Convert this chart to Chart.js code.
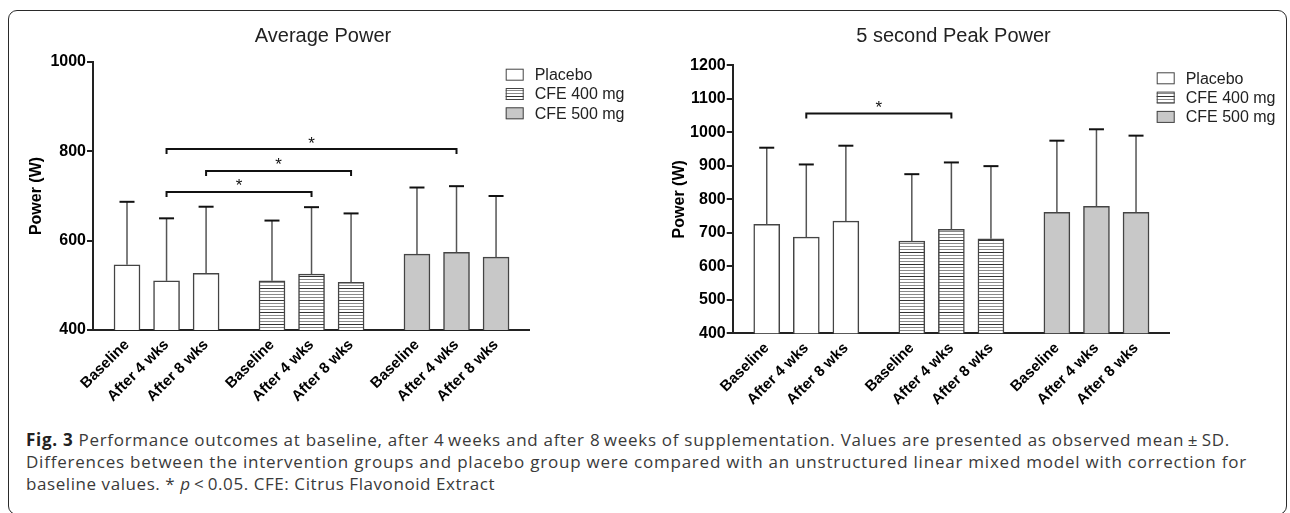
<!DOCTYPE html>
<html>
<head>
<meta charset="utf-8">
<script src="https://cdn.jsdelivr.net/npm/chart.js@4.4.1/dist/chart.umd.min.js"></script>
<style>
  html, body { margin: 0; padding: 0; background: #fff; }
  body { width: 1290px; height: 513px; position: relative; overflow: hidden; }
  #frame { position: absolute; left: 8px; top: 10px; width: 1279px; height: 505px;
           border: 1.5px solid #2a2a2a; border-radius: 9px; box-sizing: border-box; }
  canvas { position: absolute; top: 0; }
  #cLeft { left: 0; }
  #cRight { left: 645px; }
  #cap { position: absolute; left: 26px; top: 429px; font-family: "Open Sans", sans-serif;
         font-size: 17px; line-height: 22px; color: #3a3a3a; white-space: nowrap; }
  #cap > div { display: block; width: max-content; }
  #cap b { color: #222; }
</style>
</head>
<body>
<div id="frame"></div>
<canvas id="cLeft" width="645" height="420"></canvas>
<canvas id="cRight" width="645" height="420"></canvas>
<div id="cap">
  <div data-w="1204"><b>Fig. 3</b> Performance outcomes at baseline, after 4&#8201;weeks and after 8&#8201;weeks of supplementation. Values are presented as observed mean&#8201;±&#8201;SD.</div>
  <div data-w="1221">Differences between the intervention groups and placebo group were compared with an unstructured linear mixed model with correction for</div>
  <div data-w="469">baseline values. * <i>p</i>&#8201;&lt;&#8201;0.05. CFE: Citrus Flavonoid Extract</div>
</div>
<script>
// ---------------- DATA ----------------
const timeLabels = ['Baseline', 'After 4 wks', 'After 8 wks'];
const groupLabels = ['Placebo', 'CFE 400 mg', 'CFE 500 mg'];

// Average Power (W): means and SD (upper error bar)
const avgPlacebo   = [546, 510, 527];
const avgCFE400    = [510, 525, 507];
const avgCFE500    = [570, 574, 563];
const avgSDPlacebo = [141, 140, 149];
const avgSDCFE400  = [135, 150, 154];
const avgSDCFE500  = [149, 148, 137];
const avgTicks     = [400, 600, 800, 1000];
// significance brackets: [from bar, to bar, level in W]  (bars numbered 0..8)
const avgBrackets  = [[1, 7, 805], [2, 5, 756], [1, 4, 709]];

// 5 second Peak Power (W)
const peakPlacebo   = [725, 687, 735];
const peakCFE400    = [675, 710, 682];
const peakCFE500    = [761, 779, 761];
const peakSDPlacebo = [229, 217, 225];
const peakSDCFE400  = [200, 200, 217];
const peakSDCFE500  = [214, 230, 229];
const peakTicks     = [400, 500, 600, 700, 800, 900, 1000, 1100, 1200];
const peakBrackets  = [[1, 4, 1056]];

// ---------------- STYLE / LAYOUT ----------------
const FONT = 'Arial, "Liberation Sans", Helvetica, sans-serif';
const SLOT = 3, GROUP_STEP = 11;   // bar spacing and group spacing in x-units
const barPos = (g, t) => g * GROUP_STEP + t * SLOT;

function makeHatch() {
  const c = document.createElement('canvas');
  c.width = 8; c.height = 12;
  const x = c.getContext('2d');
  x.fillStyle = '#fff'; x.fillRect(0, 0, 8, 12);
  x.fillStyle = '#333'; x.fillRect(0, 0, 8, 1);
  x.fillStyle = '#8a8a8a'; x.fillRect(0, 3, 8, 1); x.fillRect(0, 6, 8, 1); x.fillRect(0, 9, 8, 1);
  return x.createPattern(c, 'repeat');
}
const fills = ['#ffffff', makeHatch(), '#c8c8c8'];

const decor = {
  id: 'decor',
  afterDatasetsDraw(chart, args, o) {
    const ctx = chart.ctx, ys = chart.scales.y;
    ctx.save();
    chart.data.datasets.forEach((ds, di) => {
      const meta = chart.getDatasetMeta(di);
      meta.data.forEach((bar, j) => {
        const top = ys.getPixelForValue(ds.data[j].y + ds.sd[j]);
        ctx.strokeStyle = '#555'; ctx.lineWidth = 1.5;
        ctx.beginPath(); ctx.moveTo(bar.x, bar.y); ctx.lineTo(bar.x, top); ctx.stroke();
        ctx.strokeStyle = '#111'; ctx.lineWidth = 2;
        ctx.beginPath(); ctx.moveTo(bar.x - 7.5, top); ctx.lineTo(bar.x + 7.5, top); ctx.stroke();
      });
    });
    const barX = i => chart.getDatasetMeta(Math.floor(i / 3)).data[i % 3].x;
    o.brackets.forEach(([a, b, lvl]) => {
      const xa = barX(a), xb = barX(b), yy = ys.getPixelForValue(lvl);
      ctx.strokeStyle = '#111'; ctx.lineWidth = 2;
      ctx.beginPath(); ctx.moveTo(xa, yy + 5); ctx.lineTo(xa, yy); ctx.lineTo(xb, yy); ctx.lineTo(xb, yy + 5); ctx.stroke();
      ctx.fillStyle = '#111'; ctx.font = '17px ' + FONT; ctx.textAlign = 'center'; ctx.textBaseline = 'alphabetic';
      ctx.fillText('*', (xa + xb) / 2, yy - 0.5);
    });
    ctx.restore();
  },
  afterDraw(chart, args, o) {
    const ctx = chart.ctx;
    ctx.save();
    ctx.fillStyle = '#222'; ctx.font = '20px ' + FONT; ctx.textAlign = 'center'; ctx.textBaseline = 'alphabetic';
    ctx.fillText(o.title, o.titleX, 42);
    ctx.font = '16px ' + FONT; ctx.textAlign = 'left'; ctx.textBaseline = 'middle';
    chart.data.datasets.forEach((ds, i) => {
      const cy = o.legY + i * 19.3;
      ctx.fillStyle = ds.backgroundColor;
      ctx.fillRect(o.legX, cy - 6, 18, 12);
      ctx.strokeStyle = '#444'; ctx.lineWidth = 1;
      ctx.strokeRect(o.legX + 0.5, cy - 5.5, 17, 11);
      ctx.fillStyle = '#222';
      ctx.fillText(ds.label, o.legX + 29, cy + 1);
    });
    ctx.restore();
  }
};

function build(id, series, sds, ticks, brackets, geo) {
  const datasets = series.map((vals, g) => ({
    label: groupLabels[g],
    data: vals.map((v, t) => ({ x: barPos(g, t), y: v })),
    sd: sds[g],
    backgroundColor: fills[g],
    borderColor: '#444',
    borderWidth: 1.5,
    barThickness: 26,
    grouped: false
  }));
  const positions = [];
  series.forEach((vals, g) => vals.forEach((v, t) => positions.push(barPos(g, t))));
  return new Chart(document.getElementById(id), {
    type: 'bar',
    data: { datasets },
    plugins: [decor],
    options: {
      responsive: false, animation: false, devicePixelRatio: 1,
      layout: { autoPadding: false, padding: { left: 0, top: geo.top, right: geo.right, bottom: 0 } },
      plugins: {
        legend: { display: false }, tooltip: { enabled: false },
        decor: { brackets, title: geo.title, titleX: geo.titleX, legX: geo.legX, legY: geo.legY }
      },
      scales: {
        x: {
          type: 'linear', min: -2.58, max: 30.5, offset: false,
          afterBuildTicks: s => { s.ticks = positions.map(v => ({ value: v })); },
          afterFit: s => { s.height = geo.xh; },
          grid: { display: false, drawTicks: false },
          border: { display: true, color: '#222', width: 2 },
          ticks: {
            autoSkip: false, minRotation: 45, maxRotation: 45, padding: 6,
            color: '#000', font: { family: FONT, size: 15, weight: 'bold' },
            callback: (v, i) => timeLabels[i % 3]
          }
        },
        y: {
          min: ticks[0], max: ticks[ticks.length - 1],
          afterBuildTicks: s => { s.ticks = ticks.map(v => ({ value: v })); },
          afterFit: s => { s.width = geo.yw; },
          grid: { drawOnChartArea: false, drawTicks: true, tickLength: 6, color: '#222', lineWidth: 2 },
          border: { display: true, color: '#222', width: 2 },
          ticks: { padding: 1, color: '#000', font: { family: FONT, size: 16, weight: 'bold' },
                   callback: v => String(v) },
          title: { display: true, text: 'Power (W)', color: '#000', padding: { top: geo.ytPad, bottom: 0 },
                   font: { family: FONT, size: 16, weight: 'bold' } }
        }
      }
    }
  });
}

build('cLeft', [avgPlacebo, avgCFE400, avgCFE500], [avgSDPlacebo, avgSDCFE400, avgSDCFE500],
      avgTicks, avgBrackets,
      { top: 62, right: 116, xh: 90, yw: 93, ytPad: 27, title: 'Average Power', titleX: 323, legX: 505.7, legY: 74.7 });
build('cRight', [peakPlacebo, peakCFE400, peakCFE500], [peakSDPlacebo, peakSDCFE400, peakSDCFE500],
      peakTicks, peakBrackets,
      { top: 65.3, right: 121, xh: 86.7, yw: 87.7, ytPad: 25, title: '5 second Peak Power', titleX: 308.5, legX: 511.7, legY: 78.3 });

// fit caption lines to the reference line widths
document.querySelectorAll('#cap > div').forEach(d => {
  const target = +d.dataset.w;
  const w = d.getBoundingClientRect().width;
  const n = d.textContent.length;
  d.style.letterSpacing = ((target - w) / n).toFixed(3) + 'px';
});
</script>
</body>
</html>
